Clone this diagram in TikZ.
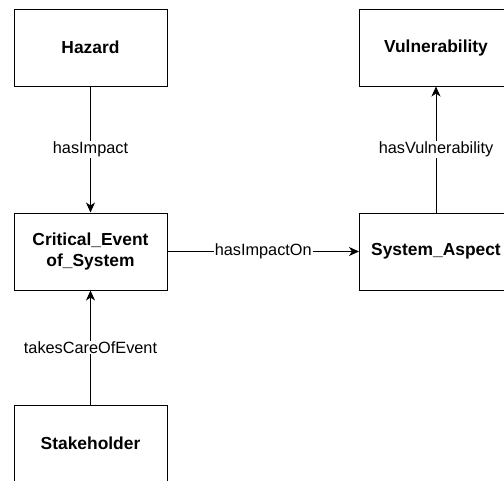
\documentclass[tikz,border=0pt]{standalone}
\usepackage{fontspec}
\setmainfont{Liberation Sans}
\usetikzlibrary{arrows.meta}
\begin{document}
\begin{tikzpicture}[x=1pt,y=-1pt,
  entity/.style={draw=black, line width=1pt, fill=white, minimum width=153pt,
    minimum height=77pt, inner sep=0pt, align=center,
    font=\fontsize{17.4}{20.7}\selectfont\bfseries},
  rel/.style={draw=black, line width=1pt,
    -{Stealth[length=10pt,width=9pt,inset=3pt]}},
  rellabel/.style={fill=white, inner sep=1pt, font=\fontsize{16.3}{19}\selectfont}]
  \useasboundingbox (0,0) rectangle (504,480);
  \clip (0,0) rectangle (504,480);
  \fill[white] (0,0) rectangle (504,480);

  % concept boxes
  \node[entity] (hazard) at (90.5,47.5) {Hazard};
  \node[entity] (vuln) at (436,47.5) {Vulnerability};
  \node[entity] (event) at (90.5,251.5) {Critical\_Event\\of\_System};
  \node[entity] (aspect) at (436,251.5) {System\_Aspect};
  \node[entity] (stake) at (90.5,443.5) {Stakeholder};

  % relations
  \draw[rel] (hazard.south) -- node[rellabel] {hasImpact} (event.north);
  \draw[rel] (event.east) -- node[rellabel] {hasImpactOn} (aspect.west);
  \draw[rel] (aspect.north) -- node[rellabel] {hasVulnerability} (vuln.south);
  \draw[rel] (stake.north) -- node[rellabel] {takesCareOfEvent} (event.south);
\end{tikzpicture}
\end{document}
